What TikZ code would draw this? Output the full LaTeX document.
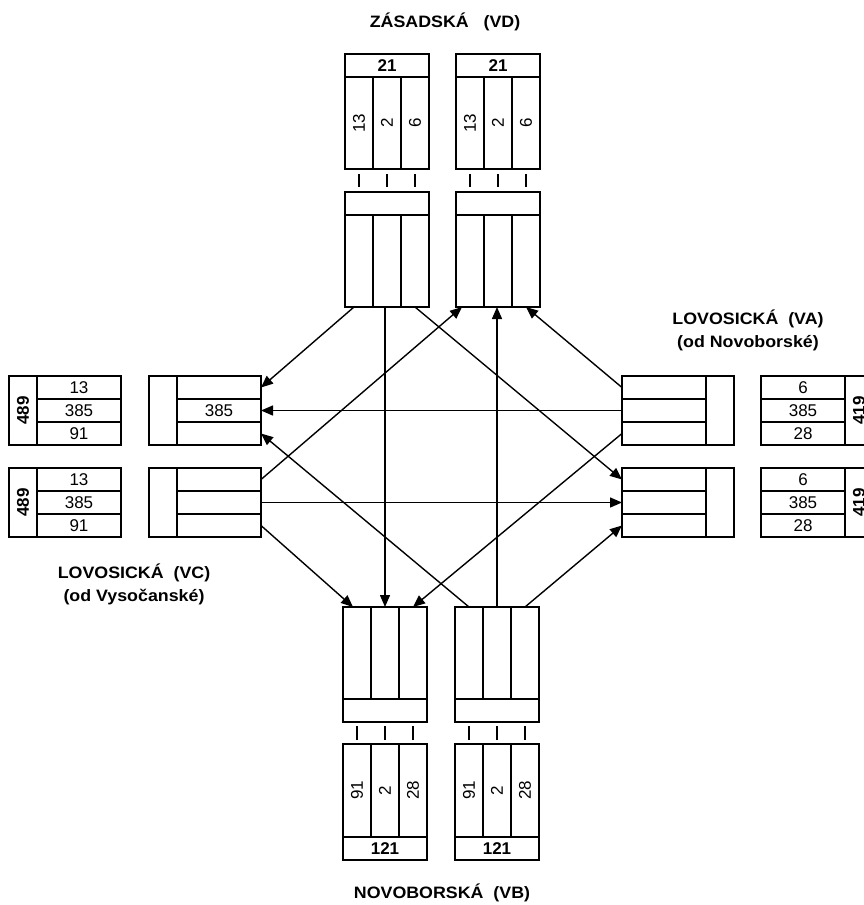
\documentclass[tikz,border=0pt]{standalone}
\usepackage{fontspec}
\setmainfont{Liberation Sans}
\usepackage{graphicx}
\usetikzlibrary{arrows.meta}
\newcommand\mkcell[6]{\node[cellbox, minimum width={#4-#2}, minimum height={#5-#3}] (#1) at ({(#2+#4)/2},{(#3+#5)/2}) {#6};}
\newcommand\numf{\fontsize{17}{17}\selectfont}
\newcommand\rot[1]{\rotatebox{90}{#1}}
\tikzset{
  cellbox/.style={draw, line width=1.8pt, inner sep=0pt, outer sep=0pt, font=\numf},
  arr/.style={line width=1.4pt, -{Triangle[length=12pt,width=10pt]}},
  tick/.style={line width=1.8pt},
  lbl/.style={font=\fontsize{16.5}{20}\selectfont\bfseries, xscale=1.08, anchor=base, inner sep=0pt}
}
\begin{document}
\begin{tikzpicture}[x=1pt,y=-1pt]
\path[use as bounding box] (0,0) rectangle (864,905);
\clip (0,0) rectangle (864,905);
\fill[white] (0,0) rectangle (864,905);

% ---- top count boxes (VD) ----
\mkcell{taH}{345}{54}{429}{77}{\bfseries 21}
\mkcell{ta1}{345}{77}{373}{169}{\rot{13}}
\mkcell{ta2}{373}{77}{401}{169}{\rot{2}}
\mkcell{ta3}{401}{77}{429}{169}{\rot{6}}
\mkcell{tbH}{456}{54}{540}{77}{\bfseries 21}
\mkcell{tb1}{456}{77}{484}{169}{\rot{13}}
\mkcell{tb2}{484}{77}{512}{169}{\rot{2}}
\mkcell{tb3}{512}{77}{540}{169}{\rot{6}}
% ---- top lane boxes ----
\mkcell{tlH}{345}{192}{429}{215}{}
\mkcell{tl1}{345}{215}{373}{307}{}
\mkcell{tl2}{373}{215}{401}{307}{}
\mkcell{tl3}{401}{215}{429}{307}{}
\mkcell{trH}{456}{192}{540}{215}{}
\mkcell{tr1}{456}{215}{484}{307}{}
\mkcell{tr2}{484}{215}{512}{307}{}
\mkcell{tr3}{512}{215}{540}{307}{}
\foreach \a/\b in {ta1/tlH,ta2/tlH,ta3/tlH,tb1/trH,tb2/trH,tb3/trH}{
  \draw[tick] ([yshift=-5pt]\a.south) -- ([yshift=5pt]\a.south |- \b.north);
}

% ---- left count boxes (VC) ----
\mkcell{lcL}{9}{376}{37}{445}{\rot{\bfseries 489}}
\mkcell{lc1}{37}{376}{121}{399}{13}
\mkcell{lc2}{37}{399}{121}{422}{385}
\mkcell{lc3}{37}{422}{121}{445}{91}
\mkcell{mcL}{9}{468}{37}{537}{\rot{\bfseries 489}}
\mkcell{mc1}{37}{468}{121}{491}{13}
\mkcell{mc2}{37}{491}{121}{514}{385}
\mkcell{mc3}{37}{514}{121}{537}{91}
% ---- left lane boxes ----
\mkcell{l1L}{149}{376}{177}{445}{}
\mkcell{l1r1}{177}{376}{261}{399}{}
\mkcell{l1r2}{177}{399}{261}{422}{385}
\mkcell{l1r3}{177}{422}{261}{445}{}
\mkcell{l2L}{149}{468}{177}{537}{}
\mkcell{l2r1}{177}{468}{261}{491}{}
\mkcell{l2r2}{177}{491}{261}{514}{}
\mkcell{l2r3}{177}{514}{261}{537}{}

% ---- right lane boxes (VA) ----
\mkcell{r1r1}{622}{376}{706}{399}{}
\mkcell{r1r2}{622}{399}{706}{422}{}
\mkcell{r1r3}{622}{422}{706}{445}{}
\mkcell{r1R}{706}{376}{734}{445}{}
\mkcell{r2r1}{622}{468}{706}{491}{}
\mkcell{r2r2}{622}{491}{706}{514}{}
\mkcell{r2r3}{622}{514}{706}{537}{}
\mkcell{r2R}{706}{468}{734}{537}{}
% ---- right count boxes ----
\mkcell{rc1}{761}{376}{845}{399}{6}
\mkcell{rc2}{761}{399}{845}{422}{385}
\mkcell{rc3}{761}{422}{845}{445}{28}
\mkcell{rcR}{845}{376}{873}{445}{\rot{\bfseries 419}}
\mkcell{sc1}{761}{468}{845}{491}{6}
\mkcell{sc2}{761}{491}{845}{514}{385}
\mkcell{sc3}{761}{514}{845}{537}{28}
\mkcell{scR}{845}{468}{873}{537}{\rot{\bfseries 419}}

% ---- bottom lane boxes (VB) ----
\mkcell{bl1}{343}{607}{371}{699}{}
\mkcell{bl2}{371}{607}{399}{699}{}
\mkcell{bl3}{399}{607}{427}{699}{}
\mkcell{blH}{343}{699}{427}{722}{}
\mkcell{br1}{455}{607}{483}{699}{}
\mkcell{br2}{483}{607}{511}{699}{}
\mkcell{br3}{511}{607}{539}{699}{}
\mkcell{brH}{455}{699}{539}{722}{}
% ---- bottom count boxes ----
\mkcell{bc1}{343}{744}{371}{837}{\rot{91}}
\mkcell{bc2}{371}{744}{399}{837}{\rot{2}}
\mkcell{bc3}{399}{744}{427}{837}{\rot{28}}
\mkcell{bcH}{343}{837}{427}{860}{\bfseries 121}
\mkcell{bd1}{455}{744}{483}{837}{\rot{91}}
\mkcell{bd2}{483}{744}{511}{837}{\rot{2}}
\mkcell{bd3}{511}{744}{539}{837}{\rot{28}}
\mkcell{bdH}{455}{837}{539}{860}{\bfseries 121}
\foreach \a/\b in {bc1/blH,bc2/blH,bc3/blH,bd1/brH,bd2/brH,bd3/brH}{
  \draw[tick] ([yshift=4pt]\a.north) -- ([yshift=-4pt]\a.north |- \b.south);
}

% ---- connectors ----
\draw[arr] ([xshift=-5pt]tl1.south) -- (l1r1.east);
\draw[arr] (bl2.north |- tl2.south) -- (bl2.north);
\draw[arr] (tl3.south) -- (r2r1.west);
\draw[arr] (l2r1.east) -- ([xshift=-8pt]tr1.south);
\draw[arr] (br2.north) -- (br2.north |- tr2.south);
\draw[arr] (r1r1.west) -- (tr3.south);
\draw[arr] (r1r2.west) -- (l1r2.east);
\draw[arr] (br1.north) -- (l1r3.east);
\draw[arr] (l2r2.east) -- (r2r2.west);
\draw[arr] (l2r3.east) -- ([xshift=-4pt]bl1.north);
\draw[arr] (r1r3.west) -- (bl3.north);
\draw[arr] (br3.north) -- (r2r3.west);

% ---- labels ----
\node[lbl] (vd) at (445,27) {ZÁSADSKÁ\ \ \ (VD)};
\node[lbl] (va1) at (748,324) {LOVOSICKÁ\ \ (VA)};
\node[lbl] (va2) at (748,347) {(od Novoborské)};
\node[lbl] (vc1) at (134,578) {LOVOSICKÁ\ \ (VC)};
\node[lbl] (vc2) at (134,601) {(od Vysočanské)};
\node[lbl] (vb) at (442,898) {NOVOBORSKÁ\ \ (VB)};
\end{tikzpicture}
\end{document}
